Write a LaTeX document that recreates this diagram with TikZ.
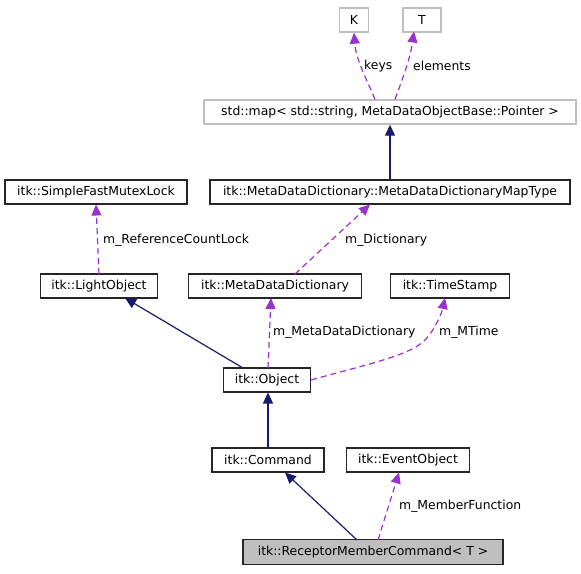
\documentclass[tikz,border=0pt]{standalone}
\usepackage{fontspec}
\setmainfont{DejaVu Sans}
\usetikzlibrary{arrows.meta}
\definecolor{navyc}{HTML}{191970}
\definecolor{purpc}{HTML}{9A32CD}
\definecolor{grayb}{HTML}{BFBFBF}
\begin{document}
\begin{tikzpicture}[x=1pt,y=-1pt,
  every node/.style={font=\fontsize{12.4}{14}\selectfont, inner sep=0pt},
  cls/.style={draw=black!85, line width=1.4pt, minimum height=24pt, fill=white},
  tmpl/.style={draw=grayb, line width=1.4pt, minimum height=24pt, fill=white},
  focus/.style={draw=black!85, line width=1.4pt, minimum height=25pt, fill=grayb},
  inh/.style={draw=navyc, line width=1.2pt, -{Triangle[length=11pt,width=10pt]}},
  use/.style={draw=purpc, line width=1.2pt, dash pattern=on 6pt off 4pt, -{Triangle[length=11pt,width=10pt,fill=purpc]}},
  lbl/.style={font=\fontsize{12.4}{14}\selectfont}
]
\useasboundingbox (0,0) rectangle (581,573);
\node[tmpl, minimum width=29pt] (K) at (354,20) {K};
\node[tmpl, minimum width=38pt] (T) at (422,20) {T};
\node[tmpl, minimum width=372pt] (map) at (390,112) {std::map< std::string, MetaDataObjectBase::Pointer >};
\node[cls, minimum width=360pt] (mt) at (390,192) {itk::MetaDataDictionary::MetaDataDictionaryMapType};
\node[cls, minimum width=182pt] (mutex) at (96,192) {itk::SimpleFastMutexLock};
\node[cls, minimum width=117pt] (lo) at (99,286) {itk::LightObject};
\node[cls, minimum width=173pt] (mdd) at (275,286) {itk::MetaDataDictionary};
\node[cls, minimum width=119pt] (ts) at (450,286) {itk::TimeStamp};
\node[cls, minimum width=87pt] (obj) at (267,380) {itk::Object};
\node[cls, minimum width=112pt] (cmd) at (268,460) {itk::Command};
\node[cls, minimum width=123pt] (ev) at (408,460) {itk::EventObject};
\node[focus, minimum width=260pt] (rmc) at (373,552) {itk::ReceptorMemberCommand< T >};

\draw[use] ([xshift=-15pt]map.north) .. controls (367,80) and (356,60) .. (K.south);
\node[lbl, anchor=west] at (364,66) {keys};
\draw[use] ([xshift=5pt]map.north) .. controls (402,80) and (410,60) .. (414,31.5);
\node[lbl, anchor=west] at (413,66) {elements};

\draw[inh] (mt.north) -- (map.south);

\draw[use] (99,274) -- (96,204.5);
\node[lbl, anchor=west] at (103,240) {m\_ReferenceCountLock};

\draw[use] (295,274) -- (370,204.5);
\node[lbl, anchor=west] at (345,240) {m\_Dictionary};

\draw[inh] (243,368) -- (125,298);

\draw[use] (268,368) -- (271,298);
\node[lbl, anchor=west] at (273,332) {m\_MetaDataDictionary};

\draw[use] (obj.east) .. controls (360,366) and (410,356) .. (425,340) .. controls (435,330) and (442,312) .. (445,298);
\node[lbl, anchor=west] at (439,332) {m\_MTime};

\draw[inh] (cmd.north) -- (268,392.5);

\draw[inh] (357,540) -- (285,472.5);

\draw[use] (378,540) -- (399,472.5);
\node[lbl, anchor=west] at (399,506) {m\_MemberFunction};
\end{tikzpicture}
\end{document}
